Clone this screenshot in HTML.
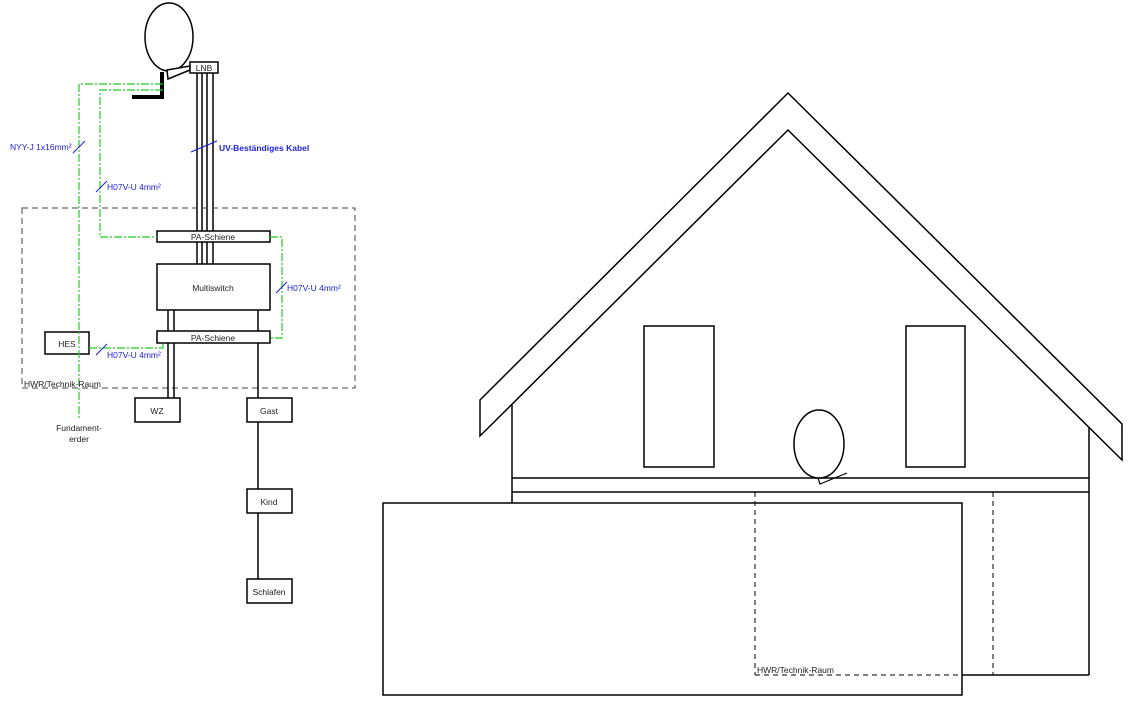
<!DOCTYPE html>
<html><head><meta charset="utf-8"><style>
html,body{margin:0;padding:0;background:#fff;width:1128px;height:720px;overflow:hidden}
svg text{font-family:"Liberation Sans",sans-serif}
</style></head><body>
<svg width="1128" height="720" viewBox="0 0 1128 720" xmlns="http://www.w3.org/2000/svg">
<g fill="none" stroke="#000" stroke-width="1.5">
<!-- left diagram dish -->
<ellipse cx="169" cy="37" rx="24" ry="34"/>
<path d="M167,70 L190,66 L190,70 L168,79 Z" fill="#fff"/>
<rect x="190" y="62" width="28" height="11" fill="#fff"/>
<line x1="197" y1="73" x2="197" y2="264"/>
<line x1="202" y1="73" x2="202" y2="264"/>
<line x1="207" y1="73" x2="207" y2="264"/>
<line x1="213" y1="73" x2="213" y2="264"/>
<!-- dashed room -->
<rect x="22" y="208" width="333" height="180" stroke="#444" stroke-width="1" stroke-dasharray="6,4"/>
<!-- cables below -->
<line x1="168" y1="310" x2="168" y2="398"/>
<line x1="174" y1="310" x2="174" y2="398"/>
<line x1="258" y1="310" x2="258" y2="398"/>
<line x1="258" y1="422" x2="258" y2="579"/>
<rect x="157" y="231" width="113" height="11" fill="#fff"/>
<rect x="157" y="264" width="113" height="46" fill="#fff"/>
<rect x="157" y="331" width="113" height="12" fill="#fff"/>
<rect x="45" y="332" width="44" height="22" fill="#fff"/>
<rect x="135" y="398" width="45" height="24" fill="#fff"/>
<rect x="247" y="398" width="45" height="24" fill="#fff"/>
<rect x="247" y="489" width="45" height="24" fill="#fff"/>
<rect x="247" y="579" width="45" height="24" fill="#fff"/>
</g>
<!-- mount -->
<path d="M162,72 L162,97 L132,97" fill="none" stroke="#000" stroke-width="4"/>
<!-- green lines -->
<g fill="none" stroke="#22cc22" stroke-width="1.2" stroke-dasharray="8,2,2,2">
<path d="M163,84 L79,84 L79,420"/>
<path d="M163,90 L100,90 L100,237 L157,237"/>
<path d="M270,237 L282,237 L282,338 L270,338"/>
<path d="M89,348 L163,348 L163,343"/>
</g>
<!-- slashes -->
<g stroke="#1a1acc" stroke-width="1">
<line x1="73" y1="153" x2="85" y2="141"/>
<line x1="191" y1="152" x2="217" y2="141"/>
<line x1="96" y1="192" x2="107" y2="181"/>
<line x1="276" y1="293" x2="287" y2="282"/>
<line x1="96" y1="355" x2="107" y2="344"/>
</g>
<g font-size="8.5" fill="#2222dd">
<text x="10" y="150">NYY-J 1x16mm²</text>
<text x="219" y="151" font-weight="bold">UV-Beständiges Kabel</text>
<text x="107" y="190">H07V-U 4mm²</text>
<text x="287" y="291">H07V-U 4mm²</text>
<text x="107" y="358">H07V-U 4mm²</text>
</g>
<g font-size="8.5" fill="#222" text-anchor="middle">
<text x="204" y="71">LNB</text>
<text x="213" y="240">PA-Schiene</text>
<text x="213" y="291">Multiswitch</text>
<text x="213" y="341">PA-Schiene</text>
<text x="67" y="347">HES</text>
<text x="157" y="414">WZ</text>
<text x="269" y="414">Gast</text>
<text x="269" y="505">Kind</text>
<text x="269" y="595">Schlafen</text>
<text x="79" y="431">Fundament-</text>
<text x="79" y="442">erder</text>
<text x="24" y="387" text-anchor="start">HWR/Technik-Raum</text>
</g>
<!-- house -->
<g fill="none" stroke="#000" stroke-width="1.5">
<path d="M480,400 L788,93 L1122,424 L1122,460 L788,130 L480,436 Z"/>
<line x1="512" y1="405" x2="512" y2="503"/>
<line x1="1089" y1="428" x2="1089" y2="675"/>
<line x1="512" y1="478" x2="1089" y2="478"/>
<line x1="512" y1="492" x2="1089" y2="492"/>
<rect x="644" y="326" width="70" height="141"/>
<rect x="906" y="326" width="59" height="141"/>
<ellipse cx="819" cy="444" rx="25" ry="34" fill="#fff"/>
<path d="M818,478 L820,484 L847,473" stroke-width="1.2"/>
<rect x="383" y="503" width="579" height="192" fill="#fff"/>
<line x1="962" y1="675" x2="1089" y2="675"/>
</g>
<g fill="none" stroke="#000" stroke-width="1" stroke-dasharray="5,4">
<line x1="755" y1="492" x2="755" y2="675"/>
<line x1="993" y1="492" x2="993" y2="675"/>
<line x1="755" y1="675" x2="962" y2="675"/>
</g>
<text x="757" y="673" font-size="8.5" fill="#222">HWR/Technik-Raum</text>
</svg>
</body></html>
